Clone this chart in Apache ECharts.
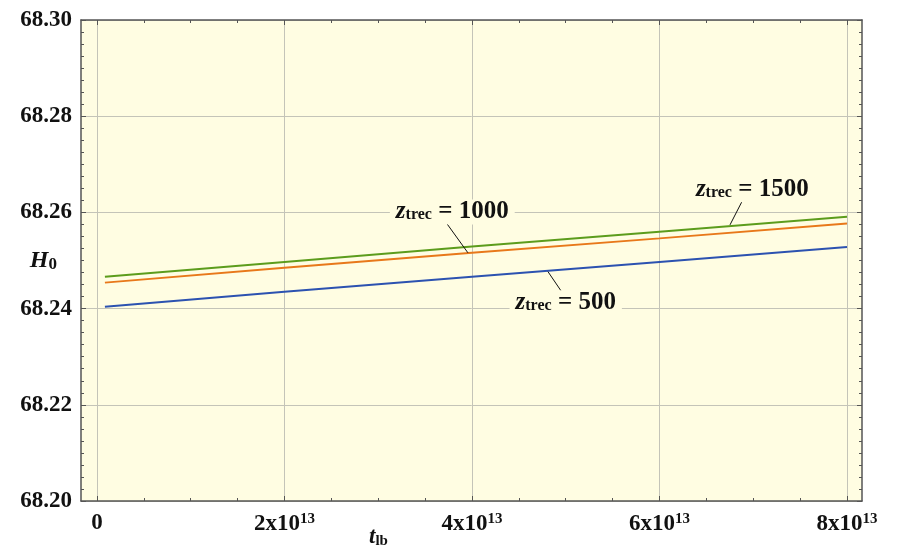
<!DOCTYPE html>
<html><head><meta charset="utf-8">
<script src="https://cdn.jsdelivr.net/npm/echarts@6/dist/echarts.min.js"></script>
<style>html,body{margin:0;padding:0;background:#fff}#c{width:907px;height:548px}</style>
</head><body><div id="c"></div>
<script>
// ---- data ----
const tValues = [0.085e13, 2e13, 4e13, 6e13, 8e13];
const h0_ztrec1500 = [68.2466, 68.2497, 68.2529, 68.2560, 68.2591];
const h0_ztrec1000 = [68.2454, 68.2485, 68.2516, 68.2546, 68.2577];
const h0_ztrec500  = [68.2404, 68.2435, 68.2466, 68.2497, 68.2528];
const xMajorTicks = [0, 2e13, 4e13, 6e13, 8e13];
const xMinorTicks = [0.5e13,1e13,1.5e13,2.5e13,3e13,3.5e13,4.5e13,5e13,5.5e13,6.5e13,7e13,7.5e13];
const seriesNames = ['1500', '1000', '500'];
// annotation anchors (data coords): label position, leader start, leader end
const labelPos = { '1500': [6.99e13, 68.2647], '1000': [3.79e13, 68.2601], '500': [5.0e13, 68.2412] };
const leaders = {
  '1500': [[6.965e13, 68.2655], [6.752e13, 68.2574]],
  '1000': [[3.72e13, 68.2580], [3.957e13, 68.2516]],
  '500':  [[4.81e13, 68.2477], [4.96e13, 68.2434]]
};

const colors = { '1500': '#5c9c1c', '1000': '#e8781a', '500': '#2c52b0' };
const plotBg = '#fffde2';
const font = '"Liberation Serif", "Times New Roman", serif';

function xLabel(v) {
  if (v === 0) return '{b|0}';
  const m = Math.round(v / 1e13);
  return '{b|' + m + 'x10}{sup|13}';
}
const xRich = {
  b: { fontFamily: font, fontWeight: 'bold', fontSize: 23, color: '#111' },
  sup: { fontFamily: font, fontWeight: 'bold', fontSize: 15, color: '#111', padding: [0, 0, 10, 0] }
};

const axisLineStyle = { color: '#555', width: 1.5 };
const xMin = -0.17e13, xMax = 8.16e13;

const xAxes = [
  { // bottom major: labels, split lines
    type: 'value', position: 'bottom', min: xMin, max: xMax,
    axisLine: { show: true, onZero: false, lineStyle: axisLineStyle },
    axisTick: { show: true, inside: true, length: 5, lineStyle: { color: '#555' }, customValues: xMajorTicks },
    axisLabel: { show: true, margin: 11, customValues: xMajorTicks, formatter: xLabel, rich: xRich },
    splitLine: { show: true, lineStyle: { color: '#c4c4b8', width: 1 } },
    name: '{t|t}{s|lb}', nameLocation: 'middle', nameGap: 25, nameMoveOverlap: false,
    nameTextStyle: { rich: {
      t: { fontFamily: font, fontStyle: 'italic', fontWeight: 'bold', fontSize: 23, color: '#111' },
      s: { fontFamily: font, fontWeight: 'bold', fontSize: 15, color: '#111', padding: [8, 0, 0, 0] }
    }, padding: [0, 186, 0, 0] }
  },
  { // top major
    type: 'value', position: 'top', min: xMin, max: xMax,
    axisLine: { show: true, onZero: false, lineStyle: axisLineStyle },
    axisTick: { show: true, inside: true, length: 5, lineStyle: { color: '#555' }, customValues: xMajorTicks },
    axisLabel: { show: false, customValues: xMajorTicks }, splitLine: { show: false }
  },
  { // bottom minor
    type: 'value', position: 'bottom', min: xMin, max: xMax,
    axisLine: { show: false, onZero: false },
    axisTick: { show: true, inside: true, length: 3, lineStyle: { color: '#555' }, customValues: xMinorTicks },
    axisLabel: { show: false, customValues: xMinorTicks }, splitLine: { show: false }
  },
  { // top minor
    type: 'value', position: 'top', min: xMin, max: xMax,
    axisLine: { show: false, onZero: false },
    axisTick: { show: true, inside: true, length: 3, lineStyle: { color: '#555' }, customValues: xMinorTicks },
    axisLabel: { show: false, customValues: xMinorTicks }, splitLine: { show: false }
  }
];

const yAxes = [
  {
    type: 'value', position: 'left', min: 68.20, max: 68.30, interval: 0.02,
    axisLine: { show: true, onZero: false, lineStyle: axisLineStyle },
    axisTick: { show: true, inside: true, length: 5, lineStyle: { color: '#555' } },
    minorTick: { show: true, splitNumber: 8, length: 3, lineStyle: { color: '#555' } },
    axisLabel: { margin: 9, fontFamily: font, fontWeight: 'bold', fontSize: 23, color: '#111',
      formatter: v => v.toFixed(2) },
    splitLine: { show: true, lineStyle: { color: '#c4c4b8', width: 1 } },
    name: '{h|H}{s|0}', nameLocation: 'middle', nameGap: 24, nameRotate: 0, nameMoveOverlap: false,
    nameTextStyle: { rich: {
      h: { fontFamily: font, fontStyle: 'italic', fontWeight: 'bold', fontSize: 24, color: '#111' },
      s: { fontFamily: font, fontWeight: 'bold', fontSize: 17, color: '#111', padding: [8, 0, 0, 0] }
    } }
  },
  {
    type: 'value', position: 'right', min: 68.20, max: 68.30, interval: 0.02,
    axisLine: { show: true, onZero: false, lineStyle: axisLineStyle },
    axisTick: { show: true, inside: true, length: 5, lineStyle: { color: '#555' } },
    minorTick: { show: true, splitNumber: 8, length: 3, lineStyle: { color: '#555' } },
    axisLabel: { show: false }, splitLine: { show: false }
  }
];

const labelRich = {
  z: { fontFamily: font, fontStyle: 'italic', fontWeight: 'bold', fontSize: 25, color: '#111' },
  s: { fontFamily: font, fontWeight: 'bold', fontSize: 16, color: '#111', padding: [6, 0, 0, 0] },
  v: { fontFamily: font, fontWeight: 'bold', fontSize: 25, color: '#111' }
};

function makeSeries(name, values) {
  return {
    name: 'z_trec = ' + name, type: 'line', xAxisIndex: 0, yAxisIndex: 0,
    data: tValues.map((t, i) => [t, values[i]]),
    showSymbol: false, symbol: 'none', smooth: false,
    lineStyle: { color: colors[name], width: 2 },
    itemStyle: { color: colors[name] },
    z: 3,
    markLine: {
      silent: true, symbol: ['none', 'none'], animation: false,
      lineStyle: { color: '#111', width: 1, type: 'solid' },
      label: { show: false },
      data: [[{ coord: leaders[name][0] }, { coord: leaders[name][1] }]]
    },
    markPoint: {
      silent: true, animation: false, symbol: 'rect', symbolSize: 0,
      data: [{ coord: labelPos[name] }],
      label: {
        show: true, position: 'inside',
        formatter: '{z|z}{s|trec}{v| = ' + name + '}',
        rich: labelRich, backgroundColor: plotBg, padding: [0, 6, 0, 6]
      }
    }
  };
}

const chart = echarts.init(document.getElementById('c'), null, { renderer: 'canvas' });
chart.setOption({
  animation: false,
  backgroundColor: '#ffffff',
  grid: { left: 81, top: 20, right: 45, bottom: 47, show: true, backgroundColor: plotBg, borderWidth: 0,
    containLabel: false, outerBoundsMode: 'none' },
  xAxis: xAxes,
  yAxis: yAxes,
  series: [
    makeSeries('1500', h0_ztrec1500),
    makeSeries('1000', h0_ztrec1000),
    makeSeries('500', h0_ztrec500)
  ]
});
</script>
</body></html>
